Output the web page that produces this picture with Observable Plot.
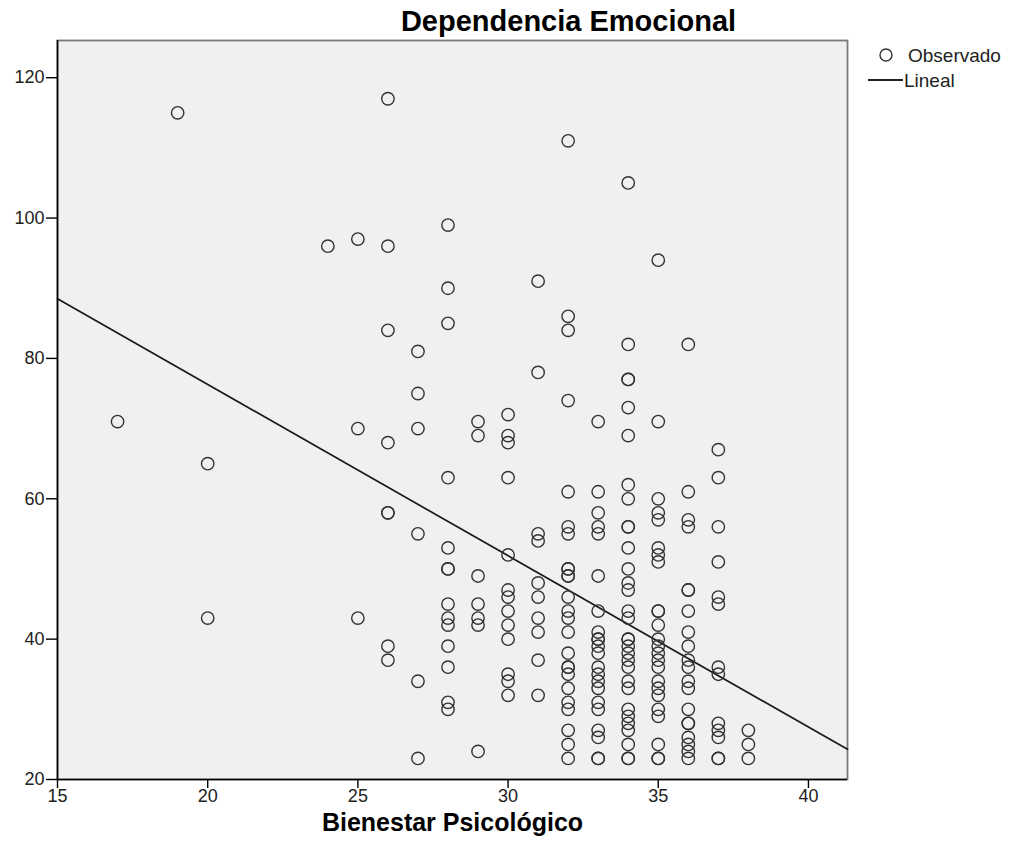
<!DOCTYPE html>
<html>
<head>
<meta charset="utf-8">
<script src="https://cdn.jsdelivr.net/npm/d3@7"></script>
<script src="https://cdn.jsdelivr.net/npm/@observablehq/plot@0.6"></script>
<style>
  html, body { margin: 0; padding: 0; background: #ffffff; }
  #chart svg { display: block; }
</style>
</head>
<body>
<div id="chart"></div>
<script>
// ---- Data ----
const title = "Dependencia Emocional";
const xLabel = "Bienestar Psicológico";
const legendLabels = ["Observado", "Lineal"];

const xTicks = [15, 20, 25, 30, 35, 40];
const yTicks = [20, 40, 60, 80, 100, 120];

// Bienestar Psicológico values (x) and the observed Dependencia Emocional values (y) at each
const xValues = [17, 19, 20, 24, 25, 26, 27, 28, 29, 30, 31, 32, 33, 34, 35, 36, 37, 38];
const yByX = [
  [71],
  [115],
  [65, 43],
  [96],
  [97, 70, 43],
  [117, 96, 84, 68, 58, 58, 39, 37],
  [81, 75, 70, 55, 34, 23],
  [99, 90, 85, 63, 53, 50, 50, 45, 43, 42, 39, 36, 31, 30],
  [71, 69, 49, 45, 43, 42, 24],
  [72, 69, 68, 63, 52, 47, 46, 44, 42, 40, 35, 34, 32],
  [91, 78, 55, 54, 48, 46, 43, 41, 37, 32],
  [111, 86, 84, 74, 61, 56, 55, 50, 50, 49, 49, 46, 44, 43, 41, 38, 36, 36, 35, 33, 31, 30, 27, 25, 23],
  [71, 61, 58, 56, 55, 49, 44, 41, 40, 40, 39, 38, 36, 35, 34, 33, 31, 30, 27, 26, 23, 23],
  [105, 82, 77, 77, 73, 69, 62, 60, 56, 56, 53, 50, 48, 47, 44, 43, 40, 40, 39, 38, 37, 36, 34, 33, 30, 29, 28, 27, 25, 23, 23],
  [94, 71, 60, 58, 57, 53, 52, 51, 44, 44, 42, 40, 39, 38, 37, 36, 34, 33, 32, 30, 29, 25, 23, 23],
  [82, 61, 57, 56, 47, 47, 44, 41, 39, 37, 36, 34, 33, 30, 28, 28, 26, 25, 24, 23],
  [67, 63, 56, 51, 46, 45, 36, 35, 28, 27, 26, 23, 23],
  [27, 25, 23]
];

// Linear fit ("Lineal") end points
const fitX = [15, 41.3];
const fitY = [88.5, 24.3];

// ---- Build tables ----
const points = xValues.flatMap((x, i) => yByX[i].map(y => ({x, y})));
const fit = fitX.map((x, i) => ({x, y: fitY[i]}));

const FONT = "'Liberation Sans', Arial, sans-serif";

function legend(index, scales, values, dims) {
  const g = d3.create("svg:g")
    .attr("font-family", FONT).attr("font-size", 19).attr("fill", "#222")
    .attr("text-anchor", "start");
  const x0 = dims.width - dims.marginRight;   // right edge of the plot frame
  const y0 = dims.marginTop;
  g.append("circle").attr("cx", x0 + 39).attr("cy", y0 + 15).attr("r", 6)
    .attr("fill", "none").attr("stroke", "#333").attr("stroke-width", 1.4);
  g.append("text").attr("x", x0 + 61).attr("y", y0 + 15).attr("dy", "0.35em").text(legendLabels[0]);
  g.append("line").attr("x1", x0 + 21).attr("x2", x0 + 56).attr("y1", y0 + 40).attr("y2", y0 + 40)
    .attr("stroke", "#222").attr("stroke-width", 2);
  g.append("text").attr("x", x0 + 57).attr("y", y0 + 40).attr("dy", "0.35em").text(legendLabels[1]);
  return g.node();
}

const chart = Plot.plot({
  width: 1009,
  height: 865,
  marginLeft: 57,
  marginRight: 162,
  marginTop: 40,
  marginBottom: 86,
  style: {fontFamily: FONT, fontSize: "18px", color: "#222", background: "#ffffff"},
  x: {domain: [15, 41.3], label: null},
  y: {domain: [20, 125.3], label: null},
  marks: [
    Plot.frame({fill: "#f0f0f0", stroke: "#7a7a7a", strokeWidth: 1.8}),
    Plot.line(fit, {x: "x", y: "y", stroke: "#1a1a1a", strokeWidth: 1.7}),
    Plot.dot(points, {x: "x", y: "y", r: 6.2, stroke: "#333", strokeWidth: 1.4, fill: "none"}),
    Plot.ruleX([15], {stroke: "#000", strokeWidth: 1.6}),
    Plot.ruleY([20], {stroke: "#000", strokeWidth: 1.6}),
    Plot.axisX({ticks: xTicks, tickSize: 9, tickPadding: 1, stroke: "#000", strokeWidth: 1.4, fontSize: 18, label: null}),
    Plot.axisY({ticks: yTicks, tickSize: 11, tickPadding: 2, stroke: "#000", strokeWidth: 1.4, fontSize: 18, label: null}),
    Plot.text([title], {frameAnchor: "top", dx: 116, dy: -30, fontSize: 29, fontWeight: "bold", fill: "#000"}),
    Plot.text([xLabel], {frameAnchor: "bottom", dy: 51, fontSize: 25, fontWeight: "bold", fill: "#000"}),
    legend
  ]
});

document.getElementById("chart").appendChild(chart);
</script>
</body>
</html>
